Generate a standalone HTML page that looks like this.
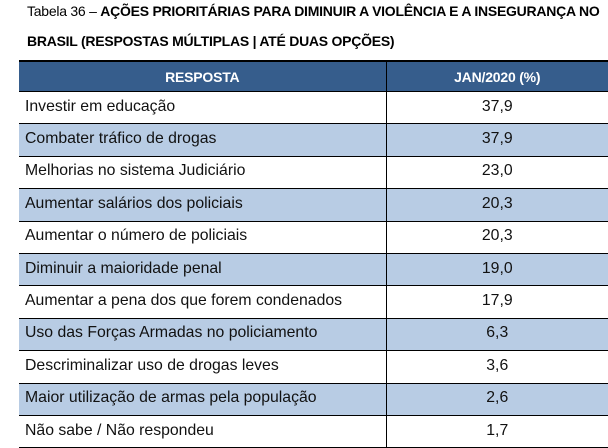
<!DOCTYPE html>
<html><head><meta charset="utf-8"><style>
body{margin:0;width:608px;height:446px;background:#fff;font-family:"Liberation Sans",sans-serif;overflow:hidden;position:relative}
.t{position:absolute;left:27px;font-size:14px;color:#000;white-space:nowrap;letter-spacing:-0.25px}
table{position:absolute;left:19px;top:60px;width:589px;border-collapse:collapse;table-layout:fixed}
th{background:#365d8c;color:#fff;font-size:14px;font-weight:bold;height:29px;padding:0;border-top:2px solid #000;letter-spacing:-0.2px}
td{height:31.4px;padding:0;font-size:15.8px;line-height:18px;color:#111;border-top:1px solid #000}
td span{position:relative;top:-1px}
td.l{padding-left:6px}
td.v{text-align:center}
tr.a td{background:#b8cce4}
.c1{border-right:1.5px solid #000}
tr:last-child td{border-bottom:1.5px solid #000}
</style></head><body>
<div class="t" style="top:3px">Tabela 36 – <b>AÇÕES PRIORITÁRIAS PARA DIMINUIR A VIOLÊNCIA E A INSEGURANÇA NO</b></div>
<div class="t" style="top:33px;font-weight:bold">BRASIL (RESPOSTAS MÚLTIPLAS | ATÉ DUAS OPÇÕES)</div>
<table>
<colgroup><col style="width:367px"><col></colgroup>
<tr><th class="c1">RESPOSTA</th><th>JAN/2020 (%)</th></tr>
<tbody id="tb"></tbody>
</table>
<script>
const categories=["Investir em educação","Combater tráfico de drogas","Melhorias no sistema Judiciário","Aumentar salários dos policiais","Aumentar o número de policiais","Diminuir a maioridade penal","Aumentar a pena dos que forem condenados","Uso das Forças Armadas no policiamento","Descriminalizar uso de drogas leves","Maior utilização de armas pela população","Não sabe / Não respondeu"];
const values=[37.9,37.9,23.0,20.3,20.3,19.0,17.9,6.3,3.6,2.6,1.7];
const tb=document.getElementById('tb');
categories.forEach((c,i)=>{
const tr=document.createElement('tr');


if(i%2)tr.className='a';
const a=document.createElement('td');a.className='l c1';
a.innerHTML='<span></span>';a.firstChild.textContent=c;


const b=document.createElement('td');b.className='v';
b.innerHTML='<span></span>';b.firstChild.textContent=values[i].toFixed(1).replace('.',',');


tr.appendChild(a);tr.appendChild(b);tb.appendChild(tr);
});
</script>
</body></html>
